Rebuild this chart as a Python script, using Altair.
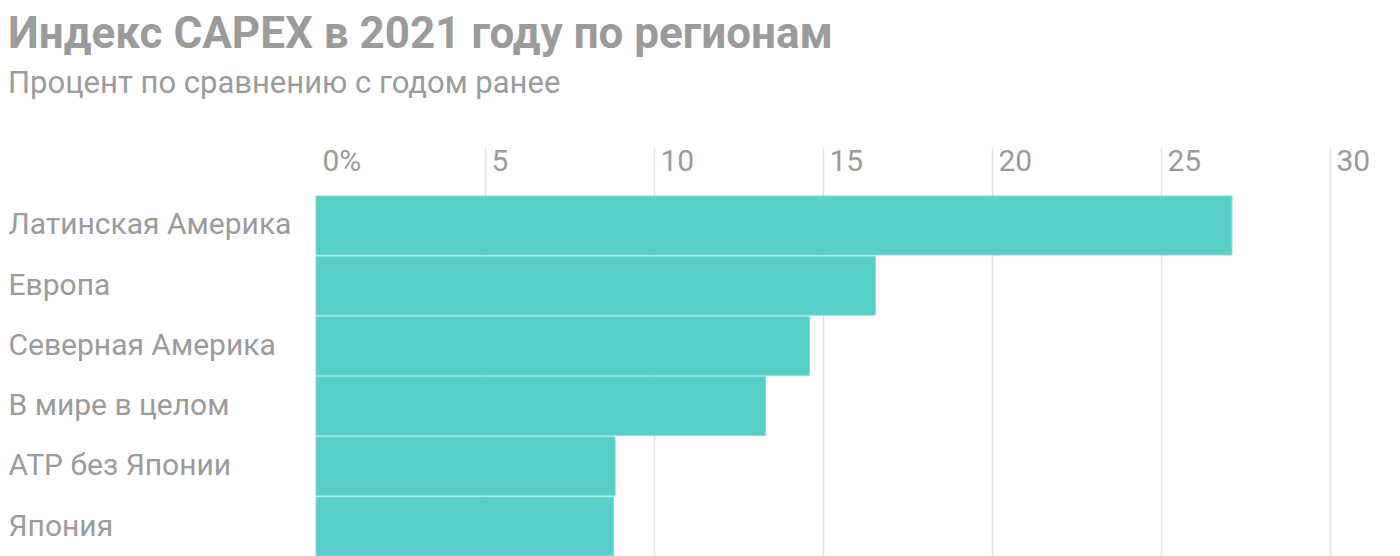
import altair as alt
import pandas as pd

regions = ["Латинская Америка", "Европа", "Северная Америка", "В мире в целом", "АТР без Японии", "Япония"]
values = [27.1, 16.55, 14.6, 13.3, 8.85, 8.8]

df = pd.DataFrame({"region": regions, "value": values})

GRAY = "#9b9b9b"
GRID = "#e2e2e2"
FONT = "Roboto"

chart = alt.Chart(df).mark_bar(
    color="#4ecdc4", opacity=0.95, stroke="#7fdcd5", strokeWidth=1
).encode(
    x=alt.X("value:Q",
            scale=alt.Scale(domain=[0, 30], nice=False),
            axis=alt.Axis(orient="top", values=[0, 5, 10, 15, 20, 25, 30], title=None,
                          domain=False, grid=True, gridColor=GRID, gridWidth=1.5,
                          gridOpacity={"condition": {"test": "datum.value === 0", "value": 0}, "value": 1},
                          ticks=True, tickSize=48, tickColor=GRID, tickWidth=1.5,
                          tickOpacity={"condition": {"test": "datum.value === 0", "value": 0}, "value": 1},
                          labelAlign="left", labelBaseline="alphabetic", labelPadding=-22, labelOffset=6,
                          labelFont=FONT, labelFontSize=30, labelColor=GRAY, labelFlush=False,
                          labelExpr="datum.value === 0 ? '0%' : datum.label")),
    y=alt.Y("region:N", sort=regions,
            scale=alt.Scale(paddingInner=0.02, paddingOuter=0),
            axis=alt.Axis(title=None, domain=False, ticks=False, grid=False,
                          labelAlign="left", labelPadding=308, labelFont=FONT, labelLimit=400,
                          labelFontSize=30, labelColor=GRAY))
).properties(
    width=1014, height=360,
    padding={"left": 0, "top": 5, "right": 0, "bottom": 0},
    title=alt.TitleParams(
        text="Индекс CAPEX в 2021 году по регионам",
        subtitle="Процент по сравнению с годом ранее",
        anchor="start", frame="bounds",
        font=FONT, fontSize=44, fontWeight="bold", color=GRAY,
        subtitleFont=FONT, subtitleFontSize=31, subtitleColor=GRAY,
        subtitlePadding=12, offset=47
    )
).configure_view(stroke=None)

chart.save("out.html", embed_options={"renderer": "svg", "actions": False})
